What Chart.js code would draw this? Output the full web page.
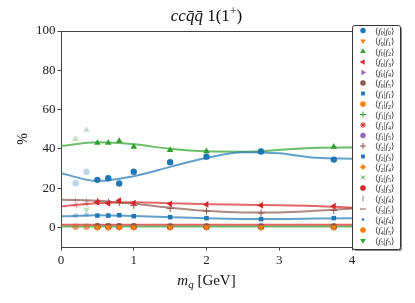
<!DOCTYPE html>
<html lang="en">
<head>
<meta charset="UTF-8">
<title>ccqq 1(1+)</title>
<style>
  body { margin: 0; background: #fff; }
  #chart { display: block; }
</style>
</head>
<body>
<canvas id="chart" width="415" height="303"></canvas>
<script src="https://cdn.jsdelivr.net/npm/chart.js"></script>
<script>
// measured masses (GeV); the first two points are drawn faded
const massPoints = [0.2, 0.35, 0.5, 0.65, 0.8, 1.0, 1.5, 2.0, 2.75, 3.75];
const fadedCount = 2;

// percentages per component
const f0f0 = [22.5, 28.3, 24.2, 25.0, 22.3, 28.3, 33.2, 36.0, 38.6, 34.5];
const f0f1 = [0.0, 0.0, 0.0, 0.0, 0.0, 0.0, 0.0, 0.0, 0.0, 0.0];
const f0f2 = [45.0, 49.6, 43.0, 43.0, 44.0, 41.0, 39.4, 38.7, 38.6, 41.0];
const f0f3 = [11.2, 12.0, 12.8, 12.3, 13.7, 12.4, 12.0, 11.7, 11.2, 10.8];
const f0f5 = [0.5, 0.5, 0.6, 0.6, 0.6, 0.6, 0.5, 0.5, 0.5, 0.5];
const f1f1 = [6.0, 6.4, 6.0, 6.0, 6.2, 5.7, 5.2, 4.7, 4.2, 4.7];
const f2f2 = [14.0, 13.4, 13.2, 12.8, 12.6, 11.2, 9.6, 8.3, 7.3, 8.6];
const f4f5 = [0.2, 0.2, 0.2, 0.2, 0.2, 0.2, 0.2, 0.2, 0.2, 0.2];
const f5f5 = [null, 9.1, 0.3, 0.3, 0.3, 0.3, 0.3, 0.3, 0.3, 0.3];

// fitted curves
const fitMass = [0, 0.5, 1, 1.5, 2, 2.5, 3, 3.5, 4];
const fitF0F0 = [27.6, 23.6, 26.0, 30.8, 35.3, 38.3, 37.7, 35.4, 35.0];
const fitF0F2 = [41.5, 43.3, 42.3, 40.0, 38.7, 38.5, 39.4, 40.5, 40.7];
const fitF0F3 = [10.7, 12.3, 12.8, 12.3, 11.8, 11.5, 11.2, 10.9, 10.0];
const fitF2F2 = [14.0, 13.6, 12.0, 10.0, 8.4, 7.6, 7.6, 8.4, 9.6];
const fitF1F1 = [5.6, 6.2, 5.8, 5.2, 4.6, 4.3, 4.3, 4.5, 4.7];
const fitLowRed = [1.3, 1.3, 1.3, 1.3, 1.3, 1.3, 1.3, 1.3, 1.3];
const fitLowGreen = [0.5, 0.5, 0.5, 0.5, 0.5, 0.5, 0.5, 0.5, 0.5];

const legendLabels = [
  ['0','0'],['0','1'],['0','2'],['0','3'],['0','4'],['0','5'],
  ['1','1'],['1','2'],['1','3'],['1','4'],['1','5'],
  ['2','2'],['2','3'],['2','4'],['2','5'],
  ['3','3'],['3','4'],['3','5'],
  ['4','4'],['4','5'],['5','5']
];
const yTicks = [0, 20, 40, 60, 80, 100];
const xTicks = [0, 1, 2, 3, 4];

const C = {
  blue: [31, 119, 180], orange: [255, 127, 14], green: [44, 160, 44],
  red: [214, 39, 40], purple: [148, 103, 189], brown: [140, 86, 75]
};
const rgba = (c, a) => `rgba(${c[0]},${c[1]},${c[2]},${a})`;

// marker style per legend entry
const markers = [
  { c: C.blue, s: 'circle', r: 3.2 },
  { c: C.orange, s: 'triangle', r: 3.8, rot: 180 },
  { c: C.green, s: 'triangle', r: 3.8 },
  { c: C.red, s: 'triangle', r: 3.8, rot: -90 },
  { c: C.purple, s: 'triangle', r: 3.8, rot: 90 },
  { c: C.brown, s: 'circle', r: 3.2 },
  { c: C.blue, s: 'rect', r: 3.2 },
  { c: C.orange, s: 'circle', r: 3.3 },
  { c: C.green, s: 'cross', r: 3.5, w: 2.2 },
  { c: C.red, s: 'star', r: 3.5, w: 1.4 },
  { c: C.purple, s: 'circle', r: 3.2 },
  { c: C.brown, s: 'cross', r: 3.5, w: 1 },
  { c: C.blue, s: 'rect', r: 3.2 },
  { c: C.orange, s: 'rectRot', r: 3.6 },
  { c: C.green, s: 'crossRot', r: 3, w: 1.2 },
  { c: C.red, s: 'circle', r: 3.3 },
  { c: C.purple, s: 'line', r: 3.5, rot: 90, w: 1 },
  { c: C.brown, s: 'line', r: 3.5, w: 1 },
  { c: C.blue, s: 'circle', r: 1.6 },
  { c: C.orange, s: 'circle', r: 3.3 },
  { c: C.green, s: 'triangle', r: 3.8, rot: 180 }
];

function pts(xs, ys) {
  return xs.map((x, i) => ({ x: x, y: ys[i] })).filter(p => p.y !== null);
}

function isLineMarker(m) {
  return m.s === 'cross' || m.s === 'crossRot' || m.s === 'line' || m.s === 'star';
}

function markerSet(values, idx) {
  const m = markers[idx];
  const cols = massPoints.map((x, i) => rgba(m.c, i < fadedCount ? 0.3 : 1))
    .filter((c, i) => values[i] !== null);
  return {
    type: 'scatter', order: 0, showLine: false,
    data: pts(massPoints, values),
    pointStyle: m.s, pointRotation: m.rot || 0, pointRadius: m.r,
    pointBackgroundColor: cols,
    pointBorderColor: cols,
    pointBorderWidth: isLineMarker(m) ? (m.w || 1.2) : 0
  };
}

function fitSet(values, col) {
  return {
    type: 'line', order: 1, showLine: true,
    data: pts(fitMass, values),
    borderColor: rgba(col, 0.7), borderWidth: 2,
    pointRadius: 0, tension: 0.4, cubicInterpolationMode: 'monotone'
  };
}

const datasets = [
  markerSet(f0f0, 0), markerSet(f0f1, 1), markerSet(f0f2, 2), markerSet(f0f3, 3),
  markerSet(f0f5, 5), markerSet(f1f1, 6), markerSet(f2f2, 11),
  markerSet(f4f5, 19), markerSet(f5f5, 20),
  fitSet(fitF0F0, C.blue), fitSet(fitF0F2, C.green), fitSet(fitF0F3, C.red),
  fitSet(fitF2F2, C.brown), fitSet(fitF1F1, C.blue),
  fitSet(fitLowRed, C.red), fitSet(fitLowGreen, C.green)
];

const SERIF = "'Liberation Serif', 'DejaVu Serif', serif";

// draws a run of text pieces with their own fonts and vertical offsets
function drawRun(ctx, pieces, x, y, align) {
  let total = 0;
  pieces.forEach(p => { ctx.font = p.f; p.w = ctx.measureText(p.t).width; total += p.w; });
  let cx = align === 'center' ? x - total / 2 : x;
  ctx.textAlign = 'left';
  ctx.textBaseline = 'alphabetic';
  pieces.forEach(p => { ctx.font = p.f; ctx.fillText(p.t, cx, y + (p.dy || 0)); cx += p.w; });
}

const decorations = {
  id: 'decorations',
  afterDraw(chart) {
    const ctx = chart.ctx;
    const a = chart.chartArea;
    ctx.save();
    // top and right spines
    ctx.strokeStyle = '#444';
    ctx.lineWidth = 1;
    ctx.beginPath();
    ctx.moveTo(a.left, a.top + 0.5);
    ctx.lineTo(a.right + 0.5, a.top + 0.5);
    ctx.lineTo(a.right + 0.5, a.bottom);
    ctx.stroke();

    ctx.fillStyle = '#111';
    // title
    drawRun(ctx, [
      { t: 'cc', f: `italic 17px ${SERIF}` },
      { t: 'q\u0304q\u0304', f: `italic 17px ${SERIF}` },
      { t: ' 1(1', f: `17px ${SERIF}` },
      { t: '+', f: `12px ${SERIF}`, dy: -6 },
      { t: ')', f: `17px ${SERIF}` }
    ], (a.left + a.right) / 2, 21, 'center');

    // x axis title
    drawRun(ctx, [
      { t: 'm', f: `italic 15px ${SERIF}` },
      { t: 'q', f: `italic 11px ${SERIF}`, dy: 3 },
      { t: ' [GeV]', f: `15px ${SERIF}` }
    ], (a.left + a.right) / 2, 285, 'center');

    // y axis title
    ctx.save();
    ctx.translate(27, (a.top + a.bottom) / 2);
    ctx.rotate(-Math.PI / 2);
    drawRun(ctx, [{ t: '%', f: `14px ${SERIF}` }], 0, 0, 'center');
    ctx.restore();

    // legend box
    const lx = 352, ly = 25, lw = 48, lh = 224;
    ctx.fillStyle = 'rgba(0,0,0,0.45)';
    ctx.beginPath();
    ctx.roundRect(lx + 2, ly + 2, lw, lh, 2);
    ctx.fill();
    ctx.fillStyle = '#fff';
    ctx.strokeStyle = '#333';
    ctx.beginPath();
    ctx.roundRect(lx + 0.5, ly + 0.5, lw, lh, 2);
    ctx.fill();
    ctx.stroke();

    legendLabels.forEach((lab, i) => {
      const y = 30.5 + i * 10.5;
      const m = markers[i];
      ctx.fillStyle = rgba(m.c, 1);
      ctx.strokeStyle = rgba(m.c, 1);
      Chart.helpers.drawPoint(ctx, {
        pointStyle: m.s, rotation: m.rot || 0, radius: m.r * 0.85,
        borderWidth: isLineMarker(m) ? (m.w || 1.2) : 0
      }, 363, y);
      ctx.fillStyle = '#222';
      drawRun(ctx, [
        { t: '\u27E8', f: `8.5px 'DejaVu Sans', ${SERIF}` },
        { t: 'f', f: `italic 9px ${SERIF}` },
        { t: lab[0], f: `6px ${SERIF}`, dy: 1.5 },
        { t: '|', f: `8.5px ${SERIF}` },
        { t: 'f', f: `italic 9px ${SERIF}` },
        { t: lab[1], f: `6px ${SERIF}`, dy: 1.5 },
        { t: '\u27E9', f: `8.5px 'DejaVu Sans', ${SERIF}` }
      ], 375, y + 3, 'left');
    });
    ctx.restore();
  }
};

new Chart(document.getElementById('chart'), {
  type: 'scatter',
  data: { datasets: datasets },
  options: {
    responsive: false,
    animation: false,
    devicePixelRatio: 1,
    layout: { padding: { left: 0, top: 31, right: 63, bottom: 0 } },
    plugins: { legend: { display: false }, tooltip: { enabled: false } },
    scales: {
      x: {
        type: 'linear', min: 0, max: 4,
        afterFit: s => { s.height = 56; },
        afterBuildTicks: s => { s.ticks = xTicks.map(v => ({ value: v })); },
        ticks: { padding: 2, color: '#222', font: { family: SERIF, size: 13 } },
        grid: { drawOnChartArea: false, drawTicks: true, tickLength: 3.5, color: '#444' },
        border: { color: '#444', width: 1 }
      },
      y: {
        type: 'linear', min: -10, max: 100,
        afterFit: s => { s.width = 61; },
        afterBuildTicks: s => { s.ticks = yTicks.map(v => ({ value: v })); },
        ticks: { padding: 2, color: '#222', font: { family: SERIF, size: 13 } },
        grid: { drawOnChartArea: false, drawTicks: true, tickLength: 3.5, color: '#444' },
        border: { color: '#444', width: 1 }
      }
    }
  },
  plugins: [decorations]
});
</script>
</body>
</html>
